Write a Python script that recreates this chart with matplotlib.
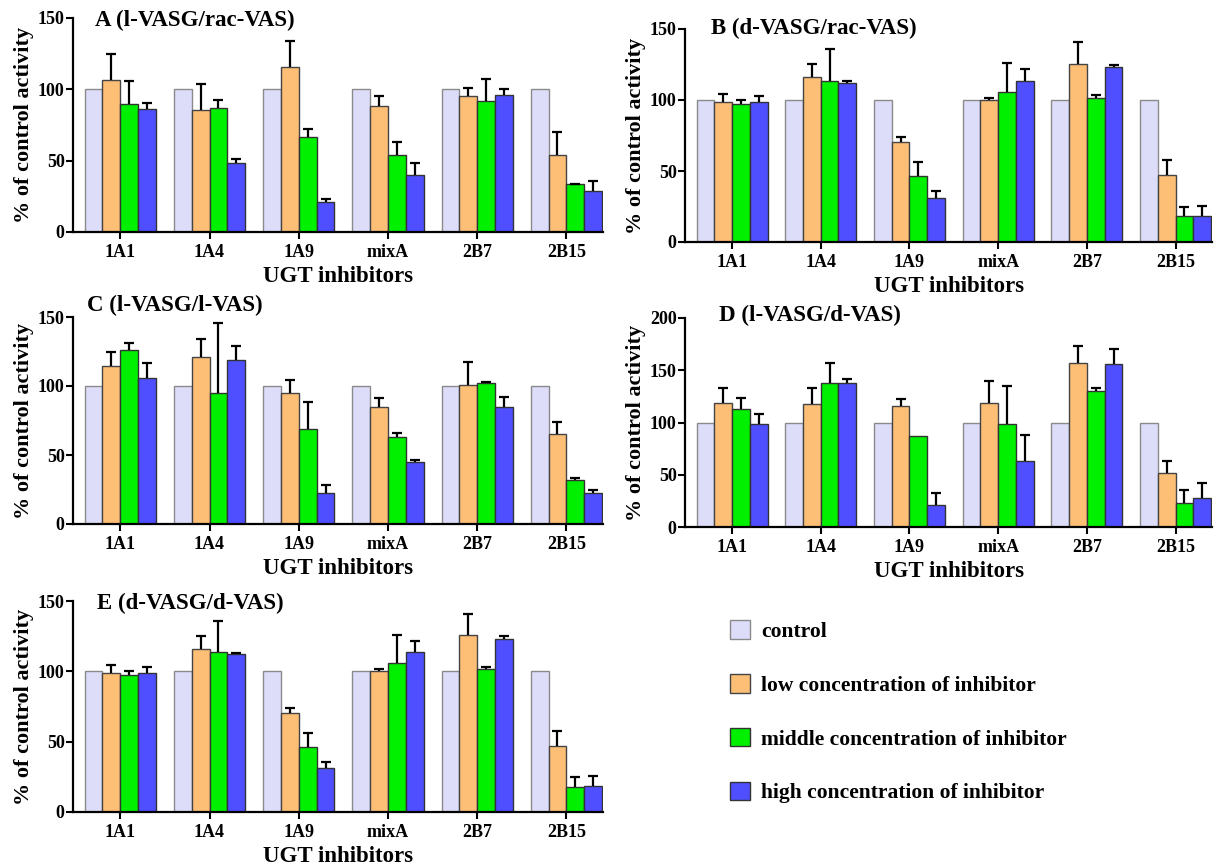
import numpy as np
import matplotlib
matplotlib.use("Agg")
import matplotlib.pyplot as plt
from matplotlib.patches import Patch

plt.rcParams['font.family'] = ['Liberation Serif', 'DejaVu Serif']
plt.rcParams['font.weight'] = 'bold'

inhibitors = ['1A1', '1A4', '1A9', 'mixA', '2B7', '2B15']
series_names = ['control', 'low concentration of inhibitor',
                'middle concentration of inhibitor', 'high concentration of inhibitor']
colors = ['#DDDDFA', '#FDBE76', '#00F000', '#4F4FFF']
edges = ['#8A8A8A', '#444444', '#333333', '#333333']

control = [100, 100, 100, 100, 100, 100]

# rows: low, middle, high concentration
a_vals = [[106.8, 85.7, 115.4, 88.6, 95.6, 54.2],
          [90.0, 87.0, 66.6, 53.7, 91.6, 33.4],
          [86.0, 48.6, 20.8, 40.0, 96.0, 28.5]]
a_errs = [[18.2, 17.8, 18.5, 6.5, 5.6, 15.7],
          [15.6, 5.3, 5.6, 9.2, 15.6, 0.5],
          [4.7, 2.6, 2.6, 8.6, 4.5, 7.5]]

b_vals = [[98.6, 116.2, 70.2, 100.0, 125.6, 47.2],
          [97.4, 113.6, 46.5, 105.6, 101.4, 18.1],
          [98.6, 112.2, 31.2, 113.6, 123.0, 18.3]]
b_errs = [[5.9, 8.9, 3.5, 1.6, 15.2, 10.5],
          [2.8, 22.3, 9.8, 20.4, 1.9, 6.8],
          [4.2, 0.9, 4.7, 8.2, 1.9, 7.1]]

c_vals = [[114.5, 121.3, 94.7, 84.5, 100.5, 65.1],
          [125.9, 94.7, 69.2, 62.7, 102.2, 31.7],
          [106.0, 118.9, 22.5, 45.0, 84.7, 22.8]]
c_errs = [[10.4, 12.8, 9.9, 6.5, 16.7, 9.0],
          [5.6, 51.1, 19.2, 3.4, 0.9, 1.7],
          [10.7, 10.4, 6.1, 1.5, 7.3, 1.7]]

d_vals = [[118.3, 118.0, 116.1, 118.7, 157.3, 52.0],
          [113.2, 138.1, 87.4, 98.9, 129.8, 23.3],
          [98.6, 137.5, 21.4, 63.5, 156.3, 28.1]]
d_errs = [[14.4, 14.7, 6.7, 21.0, 16.2, 11.5],
          [10.2, 18.8, 0.0, 36.0, 3.5, 12.4],
          [9.5, 3.8, 11.5, 24.5, 14.4, 14.0]]

e_vals = [[98.6, 116.2, 70.2, 100.0, 125.6, 47.2],
          [97.4, 113.6, 46.5, 105.6, 101.4, 18.1],
          [98.6, 112.2, 31.2, 113.6, 123.0, 18.3]]
e_errs = [[5.9, 8.9, 3.5, 1.6, 15.2, 10.5],
          [2.8, 22.3, 9.8, 20.4, 1.9, 6.8],
          [4.2, 0.9, 4.7, 8.2, 1.9, 7.1]]

W, H = 1223, 866
fig = plt.figure(figsize=(W / 100, H / 100), dpi=100)


def px_axes(left, right, top, bottom):
    return fig.add_axes([left / W, 1 - bottom / H, (right - left) / W, (bottom - top) / H])


panels = [
    ('A (l-VASG/rac-VAS)', a_vals, a_errs, (73, 603, 18, 232), 150, (95, 20)),
    ('B (d-VASG/rac-VAS)', b_vals, b_errs, (685, 1212, 29, 242), 150, (711, 28)),
    ('C (l-VASG/l-VAS)', c_vals, c_errs, (73, 603, 317, 524), 150, (87, 305)),
    ('D (l-VASG/d-VAS)', d_vals, d_errs, (685, 1212, 318, 527), 200, (719, 315)),
    ('E (d-VASG/d-VAS)', e_vals, e_errs, (73, 603, 601, 812), 150, (97, 603)),
]

x = np.arange(len(inhibitors))
bw = 0.2

for title, vals, errs, box, ymax, tpos in panels:
    ax = px_axes(*box)
    all_vals = [control] + vals
    for k in range(4):
        xs = x + (k - 1.5) * bw
        ax.bar(xs, all_vals[k], width=bw, color=colors[k], edgecolor=edges[k],
               linewidth=1.0, zorder=2)
        if k > 0:
            v = np.array(vals[k - 1])
            e = np.array(errs[k - 1])
            m = e > 0
            _, caps, _ = ax.errorbar(xs[m], v[m], yerr=[np.zeros(m.sum()), e[m]],
                                     fmt='none', ecolor='black', elinewidth=1.6,
                                     capsize=3.3, capthick=1.6, zorder=3)
            caps[0].set_visible(False)
    ax.set_xlim(-0.53, 5.41)
    ax.set_ylim(0, ymax)
    ax.set_yticks(np.arange(0, ymax + 1, 50))
    ax.set_xticks(x)
    ax.set_xticklabels(inhibitors)
    for s in ['top', 'right']:
        ax.spines[s].set_visible(False)
    for s in ['left', 'bottom']:
        ax.spines[s].set_linewidth(1.6)
    ax.tick_params(axis='both', width=1.5, length=5, labelsize=13)
    ax.tick_params(axis='y', pad=1)
    ax.set_ylabel('% of control activity', fontsize=16, fontweight='bold', labelpad=3)
    ax.set_xlabel('UGT inhibitors', fontsize=16.5, fontweight='bold', labelpad=4)
    fig.text(tpos[0] / W, 1 - tpos[1] / H, title, fontsize=16.5, fontweight='bold',
             va='center', ha='left')

handles = [Patch(facecolor=colors[k], edgecolor=edges[k], linewidth=1.0) for k in range(4)]
fig.legend(handles, series_names, loc='upper left', bbox_to_anchor=(711 / W, 1 - 601 / H),
           frameon=False, prop={'weight': 'bold', 'size': 15.5},
           handlelength=0.93, handleheight=0.93, labelspacing=1.5, handletextpad=0.5)

fig.savefig('out.png', dpi=100)
